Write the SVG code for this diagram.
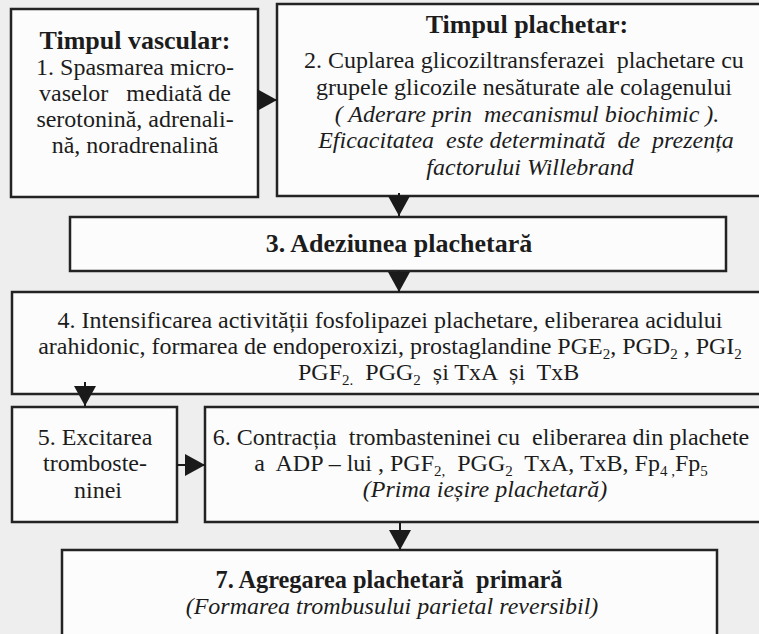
<svg xmlns="http://www.w3.org/2000/svg" width="759" height="634" viewBox="0 0 759 634" xml:space="preserve">
  <defs>
    <style>
      .box { fill: #fcfcfc; stroke: #232323; stroke-width: 2.5; }
      .t { font-family: "Liberation Serif", "Times New Roman", serif; font-size: 24px; fill: #1c1c1c; text-anchor: middle; white-space: pre; }
      .b { font-weight: bold; font-size: 26px; }
      .i { font-style: italic; }
      .sub { font-size: 15px; }
      .conn { stroke: #1a1a1a; stroke-width: 2; fill: none; marker-end: url(#ah); }
    </style>
    <marker id="ah" markerUnits="userSpaceOnUse" markerWidth="22" markerHeight="22" viewBox="0 0 20 22" refX="20" refY="11" orient="auto">
      <path d="M0,0 L20,11 L0,22 Z" fill="#1a1a1a"/>
    </marker>
  </defs>

  <rect x="0" y="0" width="759" height="634" fill="#eeeeee"/>

  <g id="n1">
    <rect class="box" x="11" y="9" width="247" height="188"/>
    <text class="t b" x="135" y="49">Timpul vascular:</text>
    <text class="t" x="135" y="75">1. Spasmarea micro-</text>
    <text class="t" x="135" y="101">vaselor   mediată de</text>
    <text class="t" x="135" y="127">serotonină, adrenali-</text>
    <text class="t" x="135" y="153">nă, noradrenalină</text>
  </g>

  <g id="n2">
    <rect class="box" x="277" y="4" width="500" height="192"/>
    <text class="t b" x="527" y="33">Timpul plachetar:</text>
    <text class="t" x="524" y="68">2. Cuplarea glicoziltransferazei  plachetare cu</text>
    <text class="t" x="524" y="95">grupele glicozile nesăturate ale colagenului</text>
    <text class="t i" x="527" y="122">( Aderare prin  mecanismul biochimic ).</text>
    <text class="t i" x="526" y="148">Eficacitatea  este determinată  de  prezența</text>
    <text class="t i" x="530" y="175">factorului Willebrand</text>
  </g>

  <g id="n3">
    <rect class="box" x="70" y="217" width="656" height="54"/>
    <text class="t b" x="399" y="252" font-size="24.5">3. Adeziunea plachetară</text>
  </g>

  <g id="n4">
    <rect class="box" x="12" y="292" width="770" height="102"/>
    <text class="t" x="390" y="328">4. Intensificarea activității fosfolipazei plachetare, eliberarea acidului</text>
    <text class="t" x="390" y="354">arahidonic, formarea de endoperoxizi, prostaglandine PGE<tspan class="sub" dy="5">2</tspan><tspan dy="-5">, PGD</tspan><tspan class="sub" dy="5">2</tspan><tspan dy="-5"> , PGI</tspan><tspan class="sub" dy="5">2</tspan></text>
    <text class="t" x="298" y="380" style="text-anchor:start">PGF<tspan class="sub" dy="5">2.</tspan><tspan dy="-5">  PGG</tspan><tspan class="sub" dy="5">2</tspan><tspan dy="-5">  și TxA  și  TxB</tspan></text>
  </g>

  <g id="n5">
    <rect class="box" x="12" y="407" width="165" height="115"/>
    <text class="t" x="95" y="445">5. Excitarea</text>
    <text class="t" x="95" y="471">tromboste-</text>
    <text class="t" x="98" y="498">ninei</text>
  </g>

  <g id="n6">
    <rect class="box" x="205" y="407" width="570" height="115"/>
    <text class="t" x="481" y="445" font-size="23.5">6. Contracția  trombasteninei cu  eliberarea din plachete</text>
    <text class="t" x="481" y="471" font-size="23.5">a  ADP – lui , PGF<tspan class="sub" dy="5">2,</tspan><tspan dy="-5">  PGG</tspan><tspan class="sub" dy="5">2</tspan><tspan dy="-5">  TxA, TxB, Fp</tspan><tspan class="sub" dy="5">4 ,</tspan><tspan dy="-5">Fp</tspan><tspan class="sub" dy="5">5</tspan></text>
    <text class="t i" x="485" y="497" font-size="23.5">(Prima ieșire plachetară)</text>
  </g>

  <g id="n7">
    <rect class="box" x="62" y="550" width="655" height="100"/>
    <text class="t b" x="389" y="588" font-size="25" textLength="347" lengthAdjust="spacingAndGlyphs">7. Agregarea plachetară  primară</text>
    <text class="t i" x="392" y="614" font-size="23.5">(Formarea trombusului parietal reversibil)</text>
  </g>

  <!-- arrows between the stages, drawn over the box borders -->
  <g id="connectors">
    <path class="conn" d="M258,100 H277"/>
    <path class="conn" d="M399,193 V216"/>
    <path class="conn" d="M399,271 V292"/>
    <path class="conn" d="M85,382 V406"/>
    <path class="conn" d="M177,465 H205"/>
    <path class="conn" d="M400,523 V550"/>
  </g>
</svg>
